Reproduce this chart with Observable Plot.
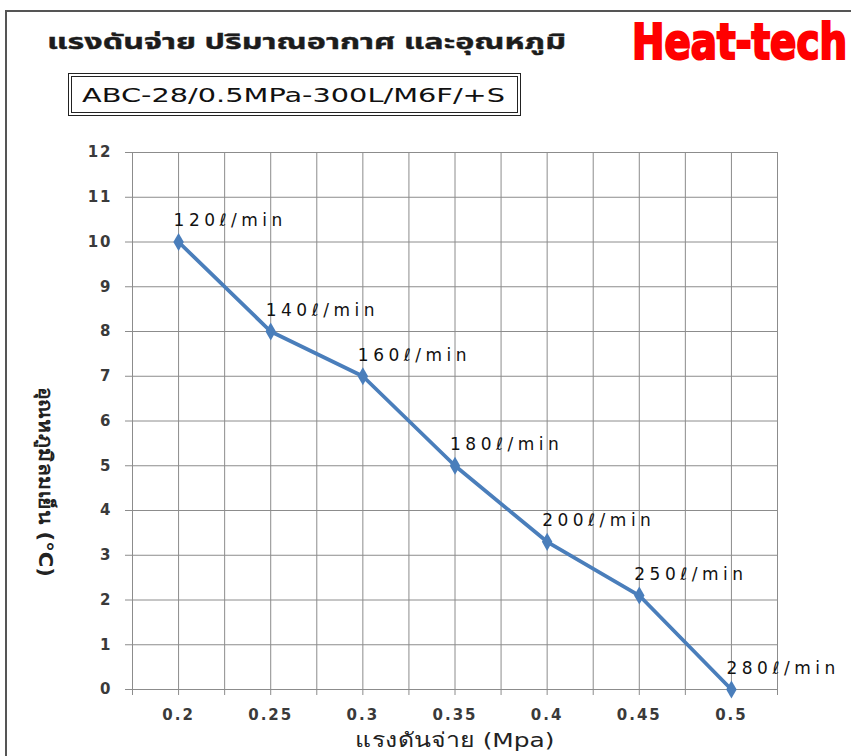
<!DOCTYPE html>
<html>
<head>
<meta charset="utf-8">
<script src="https://cdn.jsdelivr.net/npm/d3@7"></script>
<script src="https://cdn.jsdelivr.net/npm/@observablehq/plot@0.6"></script>
<style>
  html, body { margin:0; padding:0; background:#fff; }
  #page { position:relative; width:851px; height:756px; overflow:hidden; background:#fff; }
  #frame { position:absolute; left:5px; top:10px; width:900px; height:800px; border:2px solid #555; box-sizing:border-box; }
  .abs { position:absolute; white-space:nowrap; transform-origin:0 0; }
  #title { left:47px; top:30px; font-family:"Noto Sans Thai","Noto Sans","DejaVu Sans",sans-serif; font-weight:bold; font-size:22px; line-height:26px; color:#1c1c1c; -webkit-text-stroke:0.4px #1c1c1c; }
  #brand { left:632px; top:14px; font-family:"Liberation Sans Narrow","DejaVu Sans Condensed","Liberation Sans",sans-serif; font-weight:bold; font-size:50px; line-height:56px; color:#ff0000; -webkit-text-stroke:2.2px #ff0000; }
  #box { position:absolute; left:68px; top:73px; width:453px; height:43px; border:1px solid #222; box-sizing:border-box; background:#fff; }
  #boxin { position:absolute; left:2px; top:2px; right:2px; bottom:2px; border:1px solid #222; }
  #model { left:13px; top:9px; font-family:"DejaVu Sans",sans-serif; font-size:20px; line-height:24px; color:#111; }
  #chart { position:absolute; left:0; top:0; }
</style>
</head>
<body>
<div id="page">
  <div id="frame"></div>
  <div id="chart"></div>
  <div id="title" class="abs">แรงดันจ่าย ปริมาณอากาศ และอุณหภูมิ</div>
  <div id="brand" class="abs">Heat-tech</div>
  <div id="box"><div id="boxin"></div><div id="model" class="abs">ABC-28/0.5MPa-300L/M6F/+S</div></div>
</div>
<script>
// ---- data ----
const pressure = [0.2, 0.25, 0.3, 0.35, 0.4, 0.45, 0.5];
const coldAirTemp = [10, 8, 7, 5, 3.3, 2.1, 0];
const flowLabels = ["120ℓ/min", "140ℓ/min", "160ℓ/min", "180ℓ/min", "200ℓ/min", "250ℓ/min", "280ℓ/min"];
const xTickValues = [0.2, 0.25, 0.3, 0.35, 0.4, 0.45, 0.5];
const xGridValues = [0.175, 0.2, 0.225, 0.25, 0.275, 0.3, 0.325, 0.35, 0.375, 0.4, 0.425, 0.45, 0.475, 0.5, 0.525];
const yTickValues = [0, 1, 2, 3, 4, 5, 6, 7, 8, 9, 10, 11, 12];
const xTitle = "แรงดันจ่าย (Mpa)";
const yTitle = "อุณหภูมิลมเย็น (°C)";

const data = pressure.map((p, i) => ({p, t: coldAirTemp[i], label: flowLabels[i]}));

const gridColor = "#8c8c8c";
const lineColor = "#4a7ebb";

const chart = Plot.plot({
  width: 851,
  height: 756,
  marginLeft: 132,
  marginRight: 74,
  marginTop: 152,
  marginBottom: 67,
  style: {fontFamily: "'DejaVu Sans', sans-serif", background: "transparent", overflow: "visible"},
  x: {domain: [0.175, 0.525]},
  y: {domain: [0, 12]},
  marks: [
    Plot.ruleX(xGridValues, {stroke: gridColor, strokeWidth: 1}),
    Plot.ruleY(yTickValues, {stroke: gridColor, strokeWidth: 1}),
    Plot.axisY({ticks: yTickValues, tickSize: 7, tickPadding: 13, stroke: gridColor, fill: "#3a3a3a",
                fontSize: 15, fontWeight: "bold", label: null}),
    Plot.axisX({ticks: xGridValues, tickSize: 6, tickFormat: () => "", stroke: gridColor, label: null}),
    Plot.axisX({ticks: xTickValues, tickSize: 0, tickPadding: 20, tickFormat: d => String(d),
                fill: "#3a3a3a", fontSize: 15, fontWeight: "bold", label: null}),
    Plot.line(data, {x: "p", y: "t", stroke: lineColor, strokeWidth: 3.8}),
    Plot.dot(data, {x: "p", y: "t", symbol: "diamond", r: 5.5, fill: lineColor, stroke: null}),
    Plot.text(data, {x: "p", y: "t", text: "label", textAnchor: "start", dx: -5, dy: -21,
                     fontSize: 17, fill: "#111"}),
    Plot.text([xTitle], {frameAnchor: "bottom", dy: 57, fontSize: 20, fill: "#222"}),
    Plot.text([yTitle], {frameAnchor: "left", textAnchor: "middle", rotate: 90, dx: -87, dy: 61,
                         fontSize: 19, fontWeight: "bold", fill: "#222"})
  ]
});
document.getElementById("chart").appendChild(chart);

// reference-like spacing for labels and tick text
chart.querySelectorAll("text").forEach(t => {
  const s = t.textContent;
  if (s.includes("ℓ/min")) t.setAttribute("letter-spacing", "4.5");
  else if (s === xTitle) { t.setAttribute("textLength", "199"); t.setAttribute("lengthAdjust", "spacingAndGlyphs"); }
  else if (s === yTitle) { t.setAttribute("textLength", "190"); t.setAttribute("lengthAdjust", "spacingAndGlyphs"); }
  else if (/^[0-9.]+$/.test(s)) t.setAttribute("letter-spacing", "2");
});

// fit header texts to the reference widths
function fitWidth(id, target) {
  const el = document.getElementById(id);
  const w = el.getBoundingClientRect().width;
  el.style.transform = `scaleX(${target / w})`;
}
fitWidth("title", 519);
fitWidth("brand", 215);
fitWidth("model", 423);
</script>
</body>
</html>
